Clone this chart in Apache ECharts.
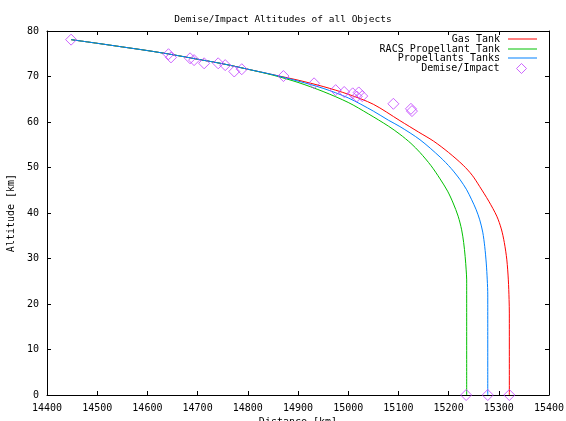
<!DOCTYPE html>
<html>
<head>
<meta charset="utf-8">
<script src="https://cdn.jsdelivr.net/npm/echarts@6/dist/echarts.min.js"></script>
<style>html,body{margin:0;padding:0;background:#fff}#c{width:566px;height:421px}</style>
</head>
<body>
<div id="c"></div>
<script>
const titleText = 'Demise/Impact Altitudes of all Objects';
const xTicks = { min: 14400, max: 15400, step: 100 };
const yTicks = { min: 0, max: 80, step: 10 };
const seriesNames = ['Gas Tank', 'RACS Propellant Tank', 'Propellants Tanks', 'Demise/Impact'];

const gasTank = [
  [14448, 78.1], [14500, 77.3], [14550, 76.5], [14600, 75.7], [14650, 74.8], [14700, 73.8],
  [14750, 72.8], [14800, 71.6], [14850, 70.4], [14900, 69.2], [14950, 67.8], [15000, 66.1],
  [15050, 63.9], [15103, 60.3], [15140, 57.8], [15170, 55.8], [15200, 53.3], [15229, 50.5],
  [15247, 48.3], [15262, 45.8], [15280, 42.6], [15296, 39.3], [15305, 36.5], [15311, 33.5],
  [15316, 29.7], [15319, 25.3], [15320.5, 21.0], [15321, 18.0], [15321, 0]
];
const racsTank = [
  [14448, 78.1], [14500, 77.3], [14550, 76.5], [14600, 75.7], [14650, 74.8], [14700, 73.8],
  [14750, 72.8], [14800, 71.6], [14850, 70.3], [14900, 68.7], [14950, 66.7], [15000, 64.3],
  [15040, 61.8], [15080, 59.1], [15103, 57.3], [15125, 55.3], [15143, 53.3], [15165, 50.4],
  [15183, 47.5], [15198, 44.8], [15209, 42.2], [15219, 39.3], [15226, 36.3], [15230, 33.5],
  [15233, 30.4], [15235, 27.5], [15236, 25.3], [15236, 0]
];
const propTanks = [
  [14448, 78.1], [14500, 77.3], [14550, 76.5], [14600, 75.7], [14650, 74.8], [14700, 73.8],
  [14750, 72.8], [14800, 71.6], [14850, 70.4], [14900, 69.0], [14950, 67.4], [15000, 65.3],
  [15050, 62.4], [15080, 60.4], [15103, 59.0], [15143, 56.1], [15183, 52.3], [15205, 49.8],
  [15223, 47.3], [15236, 45.1], [15246, 42.9], [15255, 40.7], [15262, 38.5], [15268, 35.8],
  [15272, 32.6], [15275, 29.0], [15277, 25.3], [15278, 22.0], [15278, 0]
];
const demiseX = [14448, 14642, 14647, 14685, 14693, 14713, 14741, 14755, 14773, 14788,
  14871, 14932, 14975, 14992, 15009, 15017, 15021, 15028, 15090, 15125, 15127,
  15235, 15278, 15321];
const demiseY = [78.1, 74.9, 74.2, 74.0, 73.6, 72.9, 72.9, 72.5, 71.1, 71.6,
  70.1, 68.5, 67.0, 66.6, 66.3, 65.6, 66.5, 65.7, 64.0, 62.9, 62.4,
  0, 0, 0];

const colors = ['#ff0000', '#00c000', '#0080ff', '#c040ff'];
const FONT = 'DejaVu Sans Mono';

const chart = echarts.init(document.getElementById('c'), null, { renderer: 'canvas' });

function axisCommon() {
  return {
    axisLine: { show: true, onZero: false, lineStyle: { color: '#000', width: 1 } },
    axisTick: { show: true, inside: true, length: 4, lineStyle: { color: '#000' } },
    splitLine: { show: false },
    axisLabel: { color: '#000', fontFamily: FONT, fontSize: 10, formatter: v => String(v) }
  };
}

const legendTops = [34, 44, 53, 63];
const legends = seriesNames.map((n, i) => {
  const isScatter = i === 3;
  const leg = {
    data: [isScatter ? { name: n, icon: 'diamond' } : { name: n, icon: 'rect' }],
    orient: 'vertical',
    align: 'right',
    right: isScatter ? 39 : 29,
    top: legendTops[i],
    itemWidth: isScatter ? 10 : 29,
    itemHeight: isScatter ? 10 : 1,
    padding: 0,
    selectedMode: false,
    textStyle: { color: '#000', fontFamily: FONT, fontSize: 10, padding: [0, isScatter ? 12 : 3, 0, 0] }
  };
  if (isScatter) {
    leg.itemStyle = { color: 'rgba(255,255,255,0)', borderColor: colors[3], borderWidth: 1 };
  }
  return leg;
});

const lineSeries = [gasTank, racsTank, propTanks].map((d, i) => ({
  name: seriesNames[i],
  type: 'line',
  data: d,
  symbol: 'none',
  smooth: 0.3,
  lineStyle: { color: colors[i], width: 1 },
  itemStyle: { color: colors[i] },
  z: 2
}));

const option = {
  animation: false,
  backgroundColor: '#fff',
  title: {
    text: titleText,
    left: 'center',
    top: 10,
    textStyle: { fontFamily: FONT, fontSize: 9.5, fontWeight: 'normal', color: '#000' }
  },
  legend: legends,
  grid: { left: 47, right: 17, top: 31, bottom: 26, containLabel: false, outerBoundsMode: 'none' },
  xAxis: [
    Object.assign(axisCommon(), {
      type: 'value', position: 'bottom', min: xTicks.min, max: xTicks.max, interval: xTicks.step,
      name: 'Distance [km]', nameLocation: 'middle', nameGap: 17,
      nameTextStyle: { fontFamily: FONT, fontSize: 10, color: '#000' }
    }),
    Object.assign(axisCommon(), {
      type: 'value', position: 'top', min: xTicks.min, max: xTicks.max, interval: xTicks.step,
      axisLabel: { show: false }
    })
  ],
  yAxis: [
    Object.assign(axisCommon(), {
      type: 'value', position: 'left', min: yTicks.min, max: yTicks.max, interval: yTicks.step,
      name: 'Altitude [km]', nameLocation: 'middle', nameGap: 29, nameRotate: 90,
      nameTextStyle: { fontFamily: FONT, fontSize: 10, color: '#000' }
    }),
    Object.assign(axisCommon(), {
      type: 'value', position: 'right', min: yTicks.min, max: yTicks.max, interval: yTicks.step,
      axisLabel: { show: false }
    })
  ],
  series: lineSeries.concat([{
    name: seriesNames[3],
    type: 'scatter',
    data: demiseX.map((x, i) => [x, demiseY[i]]),
    symbol: 'diamond',
    symbolSize: 11,
    itemStyle: { color: 'rgba(255,255,255,0)', borderColor: colors[3], borderWidth: 1 },
    z: 3
  }])
};
chart.setOption(option);
</script>
</body>
</html>
